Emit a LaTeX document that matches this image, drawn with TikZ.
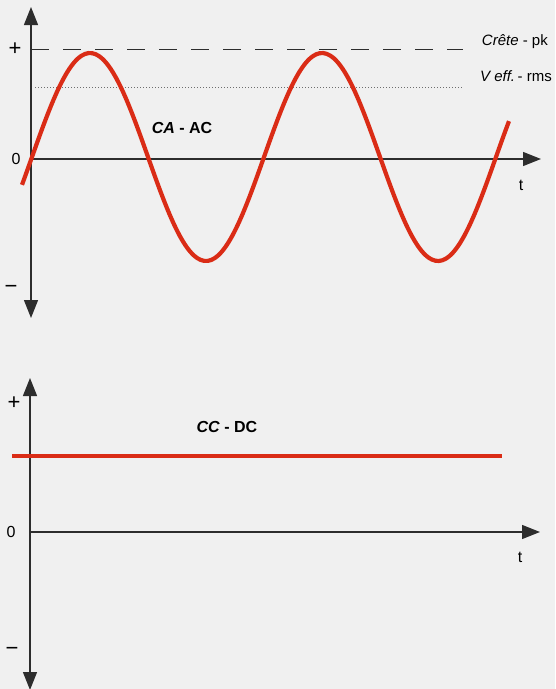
\documentclass[tikz,border=0pt]{standalone}
\usepackage{fontspec}
\setmainfont{Liberation Sans}
\usepackage{xcolor}
\definecolor{acred}{RGB}{218,44,22}
\definecolor{pagegray}{RGB}{240,240,240}
\definecolor{axisgray}{RGB}{45,45,45}
\definecolor{rmsgray}{RGB}{110,110,110}
\usetikzlibrary{arrows.meta,positioning,calc}

\begin{document}
\begin{tikzpicture}[x=1pt, y=-1pt,
  axis/.style={line width=1.3pt, axisgray, -{Triangle[length=18pt, width=14pt]}},
  lbl/.style={font=\fontsize{16}{19}\selectfont, inner sep=0pt},
  side/.style={font=\fontsize{15}{18}\selectfont, inner sep=0pt, anchor=east},
  sgn/.style={font=\fontsize{22}{25}\selectfont, inner sep=0pt}]
  % page
  \fill[pagegray] (0,0) rectangle (555,689);
  \useasboundingbox (0,0) rectangle (555,689);

  %--- AC plot ---
  \coordinate (acO) at (31,159);
  \coordinate (acTop) at (31,7);
  \coordinate (acBot) at (31,318);
  \coordinate (acEnd) at (541,159);
  \draw[axis] (acO) -- (acTop);
  \draw[axis] (acO) -- (acBot);
  \draw[axis] (acO) -- (acEnd);

  % crest and rms levels
  \coordinate (pkL) at (31,49);
  \coordinate (pkR) at (463,49);
  \coordinate (rmsL) at (35,87);
  \coordinate (rmsR) at (463,87);
  \draw[line width=1pt, axisgray, dash pattern=on 18pt off 14pt] (pkL) -- (pkR);
  \draw[line width=0.9pt, rmsgray, dash pattern=on 1pt off 2pt] (rmsL) -- (rmsR);

  % sine wave
  \draw[acred, line width=4.2pt]
    plot[domain=22:509, samples=140, smooth] (\x, {157 - 104*sin((\x-32)/232*360)});

  \node[sgn] (acplus) at (15,49) {+};
  \node[lbl] (aczero) at (16,159) {0};
  \node[sgn] (acminus) at (11,289) {−};
  \node[lbl] (act) at (521,185) {t};
  \node[lbl, font=\fontsize{16}{19}\selectfont\bfseries] (aclabel) at (182,128) {\textit{CA} - AC};
  \node[side] (crest) at (548,42) {\textit{Crête} - pk};
  \node[side] (rms) at (552,76) {\textit{V eff.}\,- rms};

  %--- DC plot ---
  \coordinate (dcO) at (30,532);
  \coordinate (dcTop) at (30,378);
  \coordinate (dcBot) at (30,690);
  \coordinate (dcEnd) at (540,532);
  \draw[axis] (dcO) -- (dcTop);
  \draw[axis] (dcO) -- (dcBot);
  \draw[axis] (dcO) -- (dcEnd);

  % constant level
  \coordinate (dcL) at (12,456);
  \coordinate (dcR) at (502,456);
  \draw[acred, line width=4pt] (dcL) -- (dcR);

  \node[sgn] (dcplus) at (14,403) {+};
  \node[lbl] (dczero) at (11,532) {0};
  \node[sgn] (dcminus) at (12,651) {−};
  \node[lbl] (dct) at (520,557) {t};
  \node[lbl, font=\fontsize{16}{19}\selectfont\bfseries] (dclabel) at (227,427) {\textit{CC} - DC};
\end{tikzpicture}
\end{document}
